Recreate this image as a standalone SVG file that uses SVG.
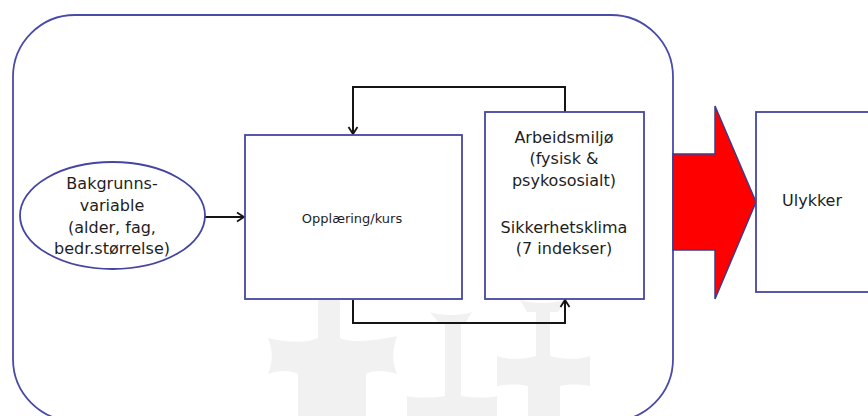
<svg xmlns="http://www.w3.org/2000/svg" width="868" height="416" viewBox="0 0 868 416">
  <style>
    .box { fill: #ffffff; stroke: #4545a3; stroke-width: 1.8; }
    .frame { fill: none; stroke: #4a4aa8; stroke-width: 1.8; }
    .link { fill: none; stroke: #151515; stroke-width: 2; }
    .lbl { font-family: "DejaVu Sans", "Liberation Sans", sans-serif; font-size: 16px; fill: #1e1e1e; text-anchor: middle; }
    .small { font-size: 13px; }
    .mark { fill: #f1f1f1; }
  </style>
  <defs>
    <marker id="head" viewBox="0 0 12 12" refX="10" refY="6" markerWidth="12" markerHeight="12" markerUnits="userSpaceOnUse" orient="auto">
      <path d="M3,1.5 L10,6 L3,10.5" fill="none" stroke="#151515" stroke-width="1.8"/>
    </marker>
  </defs>

  <rect width="868" height="416" fill="#ffffff"/>

  <!-- faint background emblem -->
  <g id="emblem">
    <path class="mark" d="M318,300 H340 V338 C352,344 380,340 397,336 C392,350 392,362 397,374 C385,370 372,370 366,374 V416 H298 V374 C290,370 278,370 268,374 C273,362 273,350 268,338 C285,342 305,344 318,338 Z"/>
    <path class="mark" d="M430,312 C440,316 462,316 472,312 L466,322 H461 V396 C475,398 490,398 497,396 V416 H407 V396 C415,398 432,398 445,396 V322 H438 Z"/>
    <path class="mark" d="M520,300 C530,304 552,304 566,300 L558,312 H550 V356 C565,360 580,360 590,356 V386 C580,384 568,384 560,386 V416 H528 V386 C520,384 508,384 497,386 V356 C508,360 522,360 536,356 V312 H527 Z"/>
  </g>

  <!-- enclosing frame -->
  <rect class="frame" x="13" y="15" width="660" height="406" rx="62" ry="62"/>

  <!-- connectors -->
  <g id="connectors">
    <path class="link" d="M205,217 H244" marker-end="url(#head)"/>
    <path class="link" d="M565,112 V87 H353 V134" marker-end="url(#head)"/>
    <path class="link" d="M353,300 V323 H565 V300" marker-end="url(#head)"/>
  </g>

  <g id="bakgrunn">
    <ellipse class="box" cx="112.5" cy="215.5" rx="92.5" ry="53.5"/>
    <text class="lbl" x="112" y="189">Bakgrunns-</text>
    <text class="lbl" x="112" y="211">variable</text>
    <text class="lbl" x="112" y="233">(alder, fag,</text>
    <text class="lbl" x="112" y="254">bedr.størrelse)</text>
  </g>

  <g id="opplaering">
    <rect class="box" x="245" y="135" width="217" height="164"/>
    <text class="lbl small" x="352" y="223">Opplæring/kurs</text>
  </g>

  <g id="arbeidsmiljo">
    <rect class="box" x="485" y="112" width="159" height="187"/>
    <text class="lbl" x="564" y="143">Arbeidsmiljø</text>
    <text class="lbl" x="564" y="164">(fysisk &amp;</text>
    <text class="lbl" x="564" y="186">psykososialt)</text>
    <text class="lbl" x="564" y="233">Sikkerhetsklima</text>
    <text class="lbl" x="564" y="254">(7 indekser)</text>
  </g>

  <g id="pil">
    <polygon points="673,154 715,154 715,106 756,202 715,299 715,250 673,250" fill="#ff0000" stroke="#3c3c8c" stroke-width="1.5" stroke-linejoin="miter"/>
  </g>

  <g id="ulykker">
    <rect class="box" x="756" y="112" width="120" height="180"/>
    <text class="lbl" x="782" y="206" text-anchor="start" style="text-anchor:start">Ulykker</text>
  </g>
</svg>
